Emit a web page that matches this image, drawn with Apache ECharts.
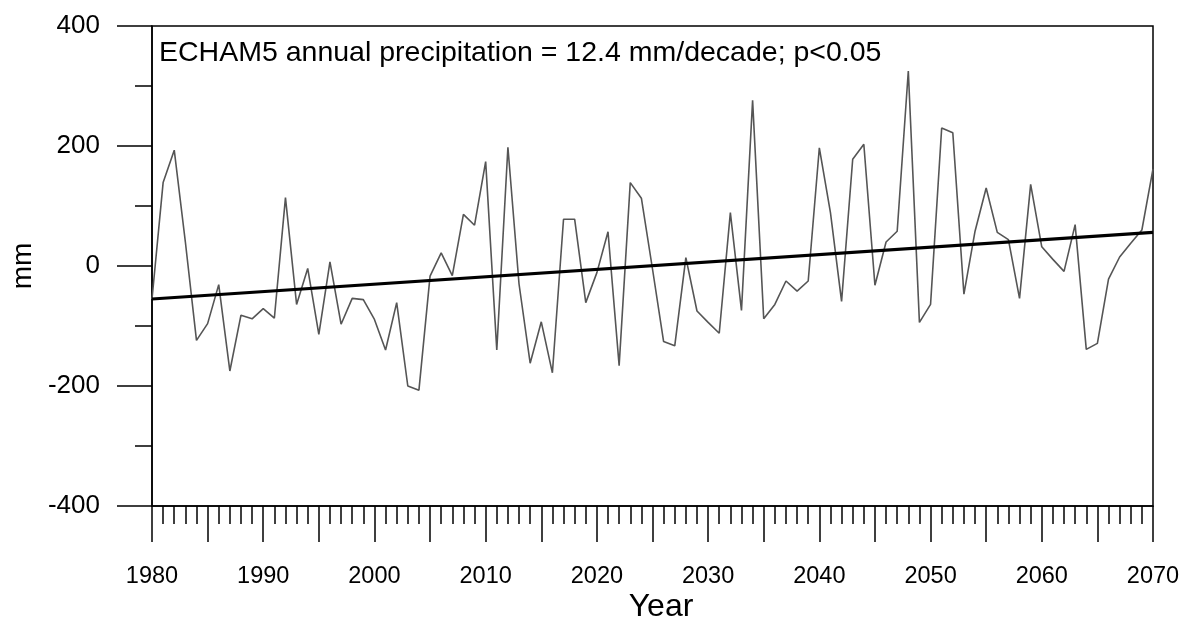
<!DOCTYPE html>
<html>
<head>
<meta charset="utf-8">
<script src="https://cdn.jsdelivr.net/npm/echarts@6/dist/echarts.min.js"></script>
<style>
  html, body { margin: 0; padding: 0; background: #fff; }
  #chart { width: 1203px; height: 624px; }
</style>
</head>
<body>
<div id="chart"></div>
<script>
// ---- data ----
const startYear = 1980;
const precipAnomaly = [
  -55, 139, 193, 40, -124, -96, -31, -175, -82, -88,
  -71, -87, 114, -64, -4, -114, 7, -97, -54, -56,
  -89, -140, -61, -200, -207, -17, 22, -16, 86, 68,
  174, -140, 198, -30, -162, -93, -178, 78, 78, -61,
  -11, 57, -166, 139, 113, -5, -126, -133, 14, -75,
  -94, -112, 89, -74, 276, -88, -64, -25, -42, -25,
  197, 89, -59, 178, 203, -32, 40, 58, 325, -94,
  -64, 230, 222, -47, 58, 130, 56, 44, -54, 136,
  32, 11, -9, 69, -139, -129, -22, 15, 38, 60,
  162
];
const trendYears = [1980, 2070];
const trendValues = [-55, 56];
const yTicks = [-400, -200, 0, 200, 400];
const xLabelYears = [1980, 1990, 2000, 2010, 2020, 2030, 2040, 2050, 2060, 2070];
const annotation = 'ECHAM5 annual precipitation = 12.4 mm/decade; p<0.05';
const xName = 'Year';
const yName = 'mm';

// ---- build ----
const seriesData = precipAnomaly.map((v, i) => [startYear + i, v]);
const trendData = trendYears.map((y, i) => [y, trendValues[i]]);
const FONT = '"Liberation Sans", Arial, sans-serif';

const chart = echarts.init(document.getElementById('chart'), null, { renderer: 'canvas' });
chart.setOption({
  backgroundColor: '#fff',
  animation: false,
  grid: {
    left: 152, right: 50, top: 26, bottom: 118,
    show: true, borderColor: '#000', borderWidth: 1.5, backgroundColor: 'transparent'
  },
  xAxis: {
    type: 'value',
    min: xLabelYears[0],
    max: xLabelYears[xLabelYears.length - 1],
    interval: 5,
    axisLine: { show: true, onZero: false, lineStyle: { color: '#000', width: 1.5 } },
    axisTick: { show: true, length: 36, lineStyle: { color: '#000', width: 1.5 } },
    minorTick: { show: true, splitNumber: 5, length: 18, lineStyle: { color: '#000', width: 1.5 } },
    axisLabel: {
      fontFamily: FONT, fontSize: 23.5, color: '#000', margin: 59,
      showMinLabel: true, showMaxLabel: true, hideOverlap: false,
      formatter: v => (xLabelYears.indexOf(v) >= 0 ? String(v) : '')
    },
    splitLine: { show: false }
  },
  yAxis: {
    type: 'value',
    min: yTicks[0],
    max: yTicks[yTicks.length - 1],
    interval: 200,
    name: yName,
    nameLocation: 'middle',
    nameGap: 115,
    nameTextStyle: { fontFamily: FONT, fontSize: 28, color: '#000' },
    axisLine: { show: true, onZero: false, lineStyle: { color: '#000', width: 1.5 } },
    axisTick: { show: true, length: 35, lineStyle: { color: '#000', width: 1.5 } },
    minorTick: { show: true, splitNumber: 2, length: 17, lineStyle: { color: '#000', width: 1.5 } },
    axisLabel: { fontFamily: FONT, fontSize: 26, color: '#000', margin: 52 },
    splitLine: { show: false }
  },
  graphic: [
    {
      type: 'text',
      left: 159,
      top: 39,
      style: { text: annotation, font: '28.5px ' + FONT, fill: '#000' },
      z: 100
    },
    {
      type: 'text',
      x: 661,
      y: 607,
      style: { text: xName, font: '32px ' + FONT, fill: '#000', align: 'center', verticalAlign: 'middle' },
      z: 100
    }
  ],
  series: [
    {
      type: 'line', data: seriesData, symbol: 'none',
      lineStyle: { color: '#555', width: 1.6 }, z: 2
    },
    {
      type: 'line', data: trendData, symbol: 'none',
      lineStyle: { color: '#000', width: 3.2 }, z: 3
    }
  ]
});
</script>
</body>
</html>
